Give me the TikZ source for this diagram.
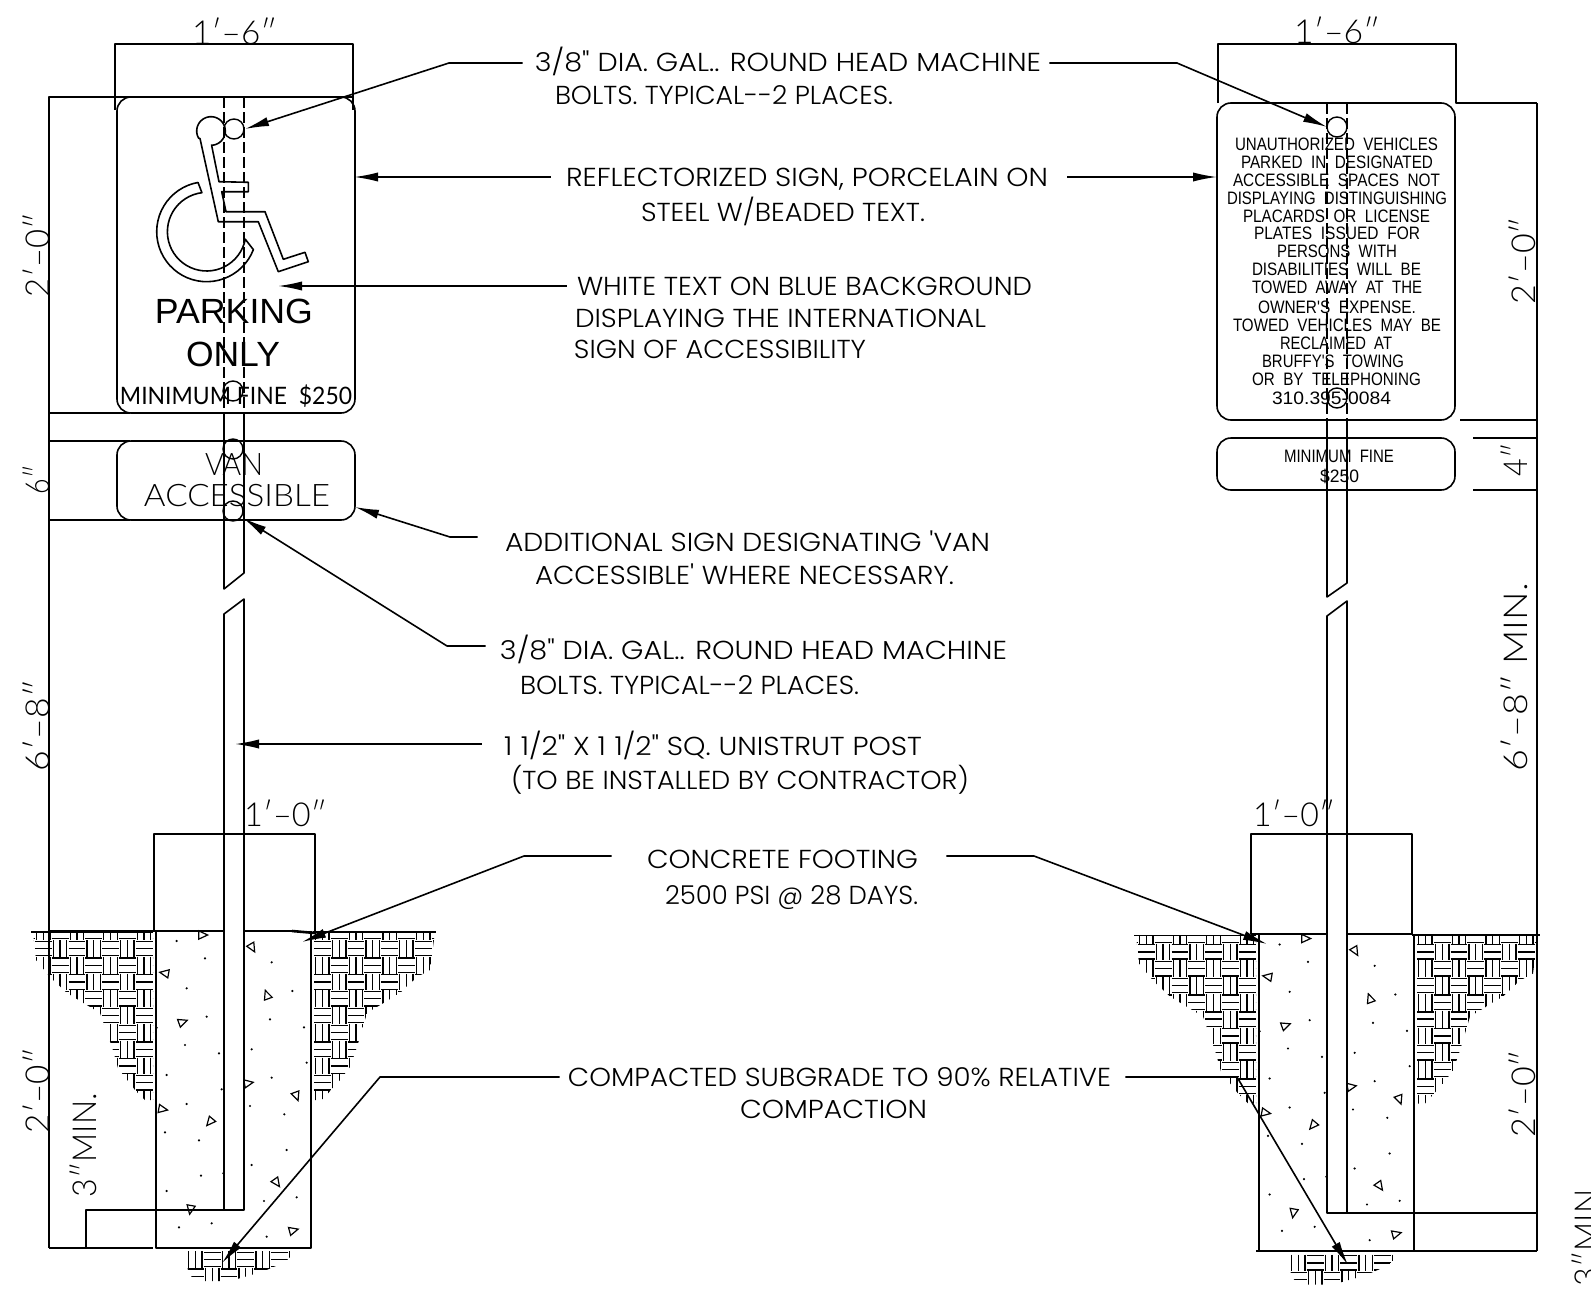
\documentclass[tikz,border=0pt]{standalone}
\usepackage{fontspec}
\usepackage{graphicx}
\usetikzlibrary{arrows.meta}
\newfontfamily\cgf{Poppins Light}
\newfontfamily\thinf{Lato Light}
\newfontfamily\latof{Lato}
\newfontfamily\arialf{Liberation Sans}
\tikzset{
  ln/.style={line width=0.8pt,black},
  thinln/.style={line width=0.6pt,black},
  thickln/.style={line width=1.3pt,black},
  dsh/.style={line width=0.75pt,dash pattern=on 5.5pt off 2pt},
  hat/.style={line width=0.65pt,black},
  signbox/.style={line width=0.8pt,rounded corners=7pt},
  bolt/.style={line width=0.7pt},
  lead/.style={line width=0.8pt,-{Latex[length=12pt,width=4.6pt]}},
  txt/.style={inner sep=4pt,text depth=0pt},
  lab/.style={txt,font=\cgf\fontsize{13}{15}\selectfont,text height=9pt},
  dimt/.style={txt,inner sep=0pt,font=\thinf\fontsize{16.5}{18}\selectfont,text height=12pt},
  signt/.style={txt,inner sep=0pt,font=\arialf\fontsize{9}{10}\selectfont,text height=6.5pt},
  park/.style={txt,inner sep=0pt,font=\arialf\fontsize{17.5}{20}\selectfont,text height=12.5pt},
  vant/.style={txt,inner sep=0pt,font=\thinf\fontsize{15.5}{18}\selectfont,text height=11pt},
  finet/.style={txt,inner sep=0pt,font=\latof\fontsize{12}{14}\selectfont,text height=8.5pt},
}
% [style]{name}{x1}{x2}{y}{text}
\newcommand\tx[6][lab]{\node[#1] (#2) at ({(#3+#4)/2},#5) {\resizebox{\dimexpr(#4pt-#3pt)/2\relax}{\height}{#6}};}
% [style]{name}{x}{y1}{y2}{text}
\newcommand\txr[6][dimt]{\node[#1,rotate=90] (#2) at (#3,{(#4+#5)/2}) {\resizebox{\dimexpr(#5pt-#4pt)/2\relax}{\height}{#6}};}
% x0,y0,nx,ny,parity
\newcommand\hatchcells[5]{%
 \foreach \i in {0,...,#3}{\foreach \j in {0,...,#4}{%
  \pgfmathtruncatemacro\pp{mod(\i+\j+#5,2)}%
  \pgfmathsetmacro\cx{#1+\i*16.8}\pgfmathsetmacro\cy{#2+\j*16.8}%
  \ifnum\pp=0
   \foreach \o in {1.7,8.4,15.1}{\draw[hat] ({\cx+\o},\cy) -- ({\cx+\o},{\cy+16.8});}%
  \else
   \foreach \o in {1.2,8.4,15.6}{\draw[hat] (\cx,{\cy+\o}) -- ({\cx+16.8},{\cy+\o});}%
  \fi
 }}}
\newcommand\soil{%
 \begin{scope}
  \clip (33,932) -- (36,960) -- (50,977) -- (67,993) -- (100,1013) -- (112,1047) -- (118,1068) -- (135,1090) -- (145,1100) -- (153,1100) -- (153,932) -- cycle;
  \hatchcells{18.1}{923.2}{8}{10}{1}
 \end{scope}
 \begin{scope}
  \clip (313,932) -- (313,1100) -- (322,1100) -- (340,1080) -- (350,1067) -- (357,1047) -- (367,1013) -- (400,993) -- (417,977) -- (430,970) -- (435,932) -- cycle;
  \hatchcells{314}{923.2}{7}{10}{0}
 \end{scope}
 \begin{scope}
  \clip (186,1250) -- (297,1250) -- (285,1262) -- (262,1272) -- (230,1281) -- (195,1281) -- (188,1272) -- cycle;
  \hatchcells{187}{1251}{6}{1}{0}
 \end{scope}
 \draw[thinln] (31,932) -- (153,932);
 \draw[thinln] (313,932) -- (436,932);
 \foreach \cxx/\cyy/\a in {605/165/0,755/200/60,497/280/190,802/348/-110,545/427/-20,742/610/-10,888/645/70,485/687/10,632/723/130,828/905/55,572/985/100,877/1052/-15}{
  \draw[thinln,line join=miter] ({\cxx/3+6*cos(\a)},{880+\cyy/3+6*sin(\a)}) -- ({\cxx/3+5*cos(\a+125)},{880+\cyy/3+5*sin(\a+125)}) -- ({\cxx/3+5*cos(\a-125)},{880+\cyy/3+5*sin(\a-125)}) -- cycle;
 }
 \foreach \cxx/\cyy in {530/183,615/235,815/247,560/325,877/333,620/410,810/418,912/442,470/443,555/495,755/508,657/520,920/548,500/585,815/593,665/628,560/672,750/678,853/703,495/757,597/781,860/810,755/855,603/887,670/880,500/933,890/952,792/963,635/1030,537/1042,800/1070}{
  \fill ({\cxx/3},{880+\cyy/3}) circle[radius=0.6pt];
 }
}
\begin{document}
\begin{tikzpicture}[x=0.5pt,y=-0.5pt,line join=round]
\useasboundingbox (0,0) rectangle (1591,1290);
\fill[white] (0,0) rectangle (1591,1290);

%% ---------- LEFT ELEVATION ----------
% dimension frames
\draw[ln] (115,110) -- (115,44) -- (353,44) -- (353,110);
\draw[line width=1pt] (49,1248) -- (49,97) -- (353,97);
\draw[ln] (49,413) -- (130,413);
\draw[ln] (49,441) -- (130,441);
\draw[ln] (49,520) -- (130,520);
\draw[ln] (154,931) -- (154,834) -- (315,834) -- (315,931);
\draw[ln] (49,1248) -- (153,1248);
\draw[ln] (86,1248) -- (86,1210) -- (224,1210);
% post
\draw[dsh] (224,97) -- (224,413);
\draw[dsh] (244,97) -- (244,413);
\draw[ln] (224,413) -- (224,589) -- (244,573) -- (244,413);
\draw[ln] (224,1210) -- (224,614) -- (244,599) -- (244,1210) -- (224,1210);
% signs
\draw[signbox] (117,97) rectangle (355,413);
\draw[signbox] (117,441) rectangle (355,520);
% wheelchair
\draw[ln] plot[domain=90:-210,samples=40] ({211+14.3*cos(\x)},{131+14.3*sin(\x)})
  -- (200,138.5) -- (218.3,221.7) -- (258.3,221.7) -- (278.3,271.7) -- (308.3,261.7) -- (305,252.3) -- (283.3,259.3) -- (265,211.7) -- (226,211.7) -- (221.7,191.7) -- (248.3,191.7) -- (248.3,182.3) -- (219,181.7) -- (211.7,145.7);
\draw[ln] plot[domain=260:21,samples=40] ({206.7+50*cos(\x)},{231.7+50*sin(\x)})
  -- plot[domain=11:263,samples=40] ({206.7+39.3*cos(\x)},{231.7+39.3*sin(\x)}) -- cycle;
% bolts
\draw[bolt] (234,129) circle[radius=5pt];
\draw[bolt] (233,391) circle[radius=5pt];
\draw[bolt] (233,449) circle[radius=5pt];
\draw[bolt] (233,511) circle[radius=5pt];
% footing
\draw[ln] (156,931) -- (156,1248) -- (311,1248) -- (311,931);
\draw[thickln] (49,931) -- (174,931);
\draw[ln] (174,931) -- (224,931);
\draw[ln] (244,931) -- (292,931);
\draw[thickln] (292,931) -- (315,933);
\soil
% sign text
\tx[park]{parking}{155}{313}{311}{PARKING}
\tx[park]{only}{186}{280}{354}{ONLY}
\tx[finet]{fineL}{120}{352}{396}{MINIMUM FINE\ \ \$250}
\tx[vant]{van}{205}{263}{464}{VAN}
\tx[vant]{accessible}{144}{330}{495}{ACCESSIBLE}
% dims
\tx[dimt]{dTopL}{192}{277}{33}{1′–6″}
\tx[dimt]{dFootL}{244}{327}{814}{1′–0″}
\txr{dA}{37}{213}{297}{2′–0″}
\txr{dB}{37}{465}{494}{6″}
\txr{dC}{37}{680}{771}{6′–8″}
\txr{dD}{37}{1048}{1133}{2′–0″}
\txr{dE}{85}{1093}{1197}{3″MIN.}

%% ---------- RIGHT ELEVATION ----------
\draw[ln] (1218,103) -- (1218,44) -- (1456,44) -- (1456,103) -- (1537,103);
\draw[line width=1pt] (1537,103) -- (1537,1251);
\draw[ln] (1460,420) -- (1537,420);
\draw[ln] (1473,438) -- (1537,438);
\draw[ln] (1473,490) -- (1537,490);
\draw[ln] (1251,934) -- (1251,834) -- (1412,834) -- (1412,934);
% post
\draw[dsh] (1327,103) -- (1327,420);
\draw[dsh] (1347,103) -- (1347,420);
\draw[ln] (1327,420) -- (1327,597) -- (1347,583) -- (1347,420);
\draw[ln] (1347,1213) -- (1327,1213) -- (1327,616) -- (1347,601) -- (1347,1213);
\draw[ln] (1347,1213) -- (1537,1213);
% signs
\draw[signbox] (1217,103) rectangle (1455,420);
\draw[signbox] (1217,438) rectangle (1455,490);
\draw[bolt] (1337,127) circle[radius=5pt];
\draw[bolt] (1337,398) circle[radius=5pt];
% footing
\draw[ln] (1259,935) -- (1259,1251) -- (1414,1251) -- (1414,935);
\draw[line width=1.1pt] (1256,1251) -- (1537,1251);
\draw[ln] (1251,934) -- (1327,934);
\draw[ln] (1347,934) -- (1412,934);
\draw[thickln] (1412,935) -- (1540,935);
\begin{scope}[shift={(1103,3.5)}]
\soil
\end{scope}
% sign text
\tx[signt]{s1}{1235}{1438}{144}{UNAUTHORIZED\ \ VEHICLES}
\tx[signt]{s2}{1241}{1433}{162}{PARKED\ \ IN\ \ DESIGNATED}
\tx[signt]{s3}{1233}{1440}{180}{ACCESSIBLE\ \ SPACES\ \ NOT}
\tx[signt]{s4}{1227}{1447}{198}{DISPLAYING\ \ DISTINGUISHING}
\tx[signt]{s5}{1243}{1430}{216}{PLACARDS\ \ OR\ \ LICENSE}
\tx[signt]{s6}{1254}{1420}{233}{PLATES\ \ ISSUED\ \ FOR}
\tx[signt]{s7}{1277}{1397}{251}{PERSONS\ \ WITH}
\tx[signt]{s8}{1252}{1421}{269}{DISABILITIES\ \ WILL\ \ BE}
\tx[signt]{s9}{1252}{1422}{287}{TOWED\ \ AWAY\ \ AT\ \ THE}
\tx[signt]{s10}{1258}{1416}{307}{OWNER'S\ \ EXPENSE.}
\tx[signt]{s11}{1233}{1441}{325}{TOWED\ \ VEHICLES\ \ MAY\ \ BE}
\tx[signt]{s12}{1280}{1392}{343}{RECLAIMED\ \ AT}
\tx[signt]{s13}{1262}{1404}{361}{BRUFFY'S\ \ TOWING}
\tx[signt]{s14}{1252}{1421}{379}{OR\ \ BY\ \ TELEPHONING}
\tx[signt]{s15}{1272}{1391}{398}{310.395-0084}
\tx[signt]{s16}{1284}{1394}{456}{MINIMUM\ \ FINE}
\tx[signt]{s17}{1320}{1359}{476}{\$250}
% dims
\tx[dimt]{dTopR}{1294}{1380}{32}{1′–6″}
\tx[dimt]{dFootR}{1253}{1335}{814}{1′–0″}
\txr{dF}{1523}{217}{304}{2′–0″}
\txr{dG}{1515}{443}{476}{4″}
\txr{dH}{1515}{583}{771}{6′–8″ MIN.}
\txr{dI}{1523}{1050}{1137}{2′–0″}
\txr{dJ}{1586}{1182}{1286}{3″MIN.}

%% ---------- NOTES ----------
\tx{n1}{535}{1041}{63}{3/8" DIA. GAL.. ROUND HEAD MACHINE}
\tx{n1b}{555}{893}{95}{BOLTS. TYPICAL--2 PLACES.}
\tx{n2}{566}{1048}{177}{REFLECTORIZED SIGN, PORCELAIN ON}
\tx{n2b}{641}{925}{212}{STEEL W/BEADED TEXT.}
\tx{n3}{577}{1032}{286}{WHITE TEXT ON BLUE BACKGROUND}
\tx{n3b}{575}{986}{318}{DISPLAYING THE INTERNATIONAL}
\tx{n3c}{574}{866}{349}{SIGN OF ACCESSIBILITY}
\tx{n4}{505}{990}{542}{ADDITIONAL SIGN DESIGNATING 'VAN}
\tx{n4b}{535}{954}{575}{ACCESSIBLE' WHERE NECESSARY.}
\tx{n5}{500}{1007}{650}{3/8" DIA. GAL.. ROUND HEAD MACHINE}
\tx{n5b}{520}{859}{685}{BOLTS. TYPICAL--2 PLACES.}
\tx{n6}{504}{922}{746}{1\hspace{.3em}1/2" X 1\hspace{.3em}1/2" SQ. UNISTRUT POST}
\tx{n6b}{511}{969}{780}{(TO BE INSTALLED BY CONTRACTOR)}
\tx{n7}{647}{918}{859}{CONCRETE FOOTING}
\tx{n7b}{665}{918}{895}{2500 PSI @ 28 DAYS.}
\tx{n8}{568}{1111}{1077}{COMPACTED SUBGRADE TO 90\% RELATIVE}
\tx{n8b}{740}{927}{1109}{COMPACTION}

% leader points
\coordinate (k1) at (449,63);     \coordinate (tip1) at (245,129);
\coordinate (k1r) at (1177,63);   \coordinate (tip1r) at (1327,127);
\coordinate (tip2) at (354,177);  \coordinate (tip2r) at (1217,177);
\coordinate (tip3) at (278,286);
\coordinate (k4) at (450,537);    \coordinate (tip4) at (355,507);
\coordinate (k5) at (447,646);    \coordinate (tip5) at (243,518);
\coordinate (tip6) at (235,744);
\coordinate (k7) at (524,856);    \coordinate (tip7) at (302,942);
\coordinate (k7r) at (1034,856);  \coordinate (tip7r) at (1267,944);
\coordinate (k8) at (380,1077);   \coordinate (tip8) at (222,1263);
\coordinate (k8r) at (1237,1077); \coordinate (tip8r) at (1348,1265);

\draw[lead] (n1.west) ++(-4,0) -- (k1) -- (tip1);
\draw[lead] (n1.east) -- (k1r) -- (tip1r);
\draw[lead] (n2.west) ++(-7,0) -- (tip2);
\draw[lead] (n2.east) ++(11,0) -- (tip2r);
\draw[lead] (n3.west) ++(-2,0) -- (tip3);
\draw[lead] (n4.west) ++(-19,-5) -- (k4) -- (tip4);
\draw[lead] (n5.west) ++(-6,-4) -- (k5) -- (tip5);
\draw[lead] (n6.west) ++(-14,-2) -- (tip6);
\draw[lead] (n7.west) ++(-27,-3) -- (k7) -- (tip7);
\draw[lead] (n7.east) ++(20,-3) -- (k7r) -- (tip7r);
\draw[lead] (n8.west) -- (k8) -- (tip8);
\draw[lead] (n8.east) ++(6,0) -- (k8r) -- (tip8r);
\end{tikzpicture}
\end{document}
